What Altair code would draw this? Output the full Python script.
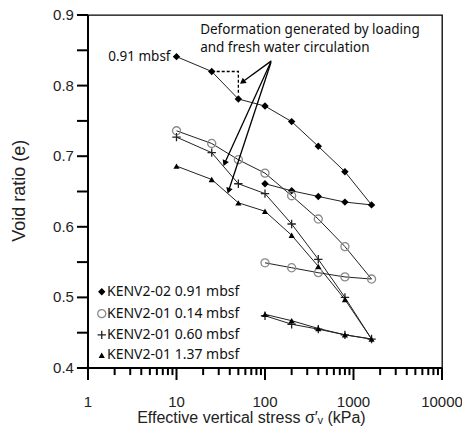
import altair as alt
import pandas as pd

# ---------------- data ----------------
stress_path = [10, 25, 50, 100, 200, 400, 800, 1600, 800, 400, 200, 100]

e_kenv202_091 = [0.841, 0.820, 0.781, 0.771, 0.749, 0.714, 0.678, 0.631, 0.635, 0.643, 0.651, 0.661]
e_kenv201_014 = [0.736, 0.718, 0.695, 0.676, 0.644, 0.611, 0.572, 0.526, 0.529, 0.535, 0.542, 0.549]
e_kenv201_060 = [0.727, 0.705, 0.661, 0.647, 0.604, 0.554, 0.500, 0.441, 0.447, 0.455, 0.462, 0.474]
e_kenv201_137 = [0.686, 0.667, 0.634, 0.622, 0.588, 0.544, 0.497, 0.441, 0.447, 0.456, 0.467, 0.476]

series_names = ["KENV2-02 0.91 mbsf", "KENV2-01 0.14 mbsf", "KENV2-01 0.60 mbsf", "KENV2-01 1.37 mbsf"]
series_values = [e_kenv202_091, e_kenv201_014, e_kenv201_060, e_kenv201_137]

dash_x = [25, 50, 50]
dash_y = [0.820, 0.820, 0.787]

arrow_x1 = [118, 116, 117]
arrow_y1 = [0.835, 0.833, 0.833]
arrow_x2 = [55.5, 35, 38.8]
arrow_y2 = [0.805, 0.690, 0.651]
arrow_angle = [234, 203, 198]

x_major = [1, 10, 100, 1000, 10000]
x_major_labels = ["1", "10", "100", "1000", "10000"]
x_minor = [2, 3, 4, 5, 6, 7, 8, 9,
           20, 30, 40, 50, 60, 70, 80, 90,
           200, 300, 400, 500, 600, 700, 800, 900,
           2000, 3000, 4000, 5000, 6000, 7000, 8000, 9000]
y_ticks = [0.4, 0.45, 0.5, 0.55, 0.6, 0.65, 0.7, 0.75, 0.8, 0.85, 0.9]
y_label_vals = [0.4, 0.5, 0.6, 0.7, 0.8, 0.9]
y_labels = ["0.4", "0.5", "0.6", "0.7", "0.8", "0.9"]

x_title = "Effective vertical stress σ′ᵥ (kPa)"
y_title = "Void ratio (e)"
annotation_lines = ["Deformation generated by loading", "and fresh water circulation"]

# ---------------- styles / placement constants ----------------
W, H = 354, 353
FONT = "Liberation Sans"
LFONT = "Noto Sans"
X_MIN, X_MAX, Y_MIN, Y_MAX = 1, 10000, 0.4, 0.9
LEG_MARK_X, LEG_TEXT_X = 1.43, 1.64
LEG_ROW_Y = [0.508, 0.477, 0.447, 0.418]
ANN_X = 18.5
ANN_Y = [0.879, 0.853]
YTICK_END_X = 0.7504          # 11 px left of the y axis on the log scale
XMAJOR_END_Y = 0.383          # 12 px below the x axis
XMINOR_END_Y = 0.390          # 7 px below the x axis
XTITLE_X, YTITLE_X, YTITLE_Y = 70.2, 0.170, 0.651

xscale = alt.Scale(type="log", domain=[X_MIN, X_MAX], nice=False)
yscale = alt.Scale(domain=[Y_MIN, Y_MAX], nice=False, zero=False)


def X(field):
    return alt.X(field, scale=xscale, axis=None)


def Y(field):
    return alt.Y(field, scale=yscale, axis=None)


marker_styles = [
    dict(shape="diamond", filled=True, color="black", size=55, strokeWidth=0),
    dict(shape="circle", filled=False, color="#8a8a8a", size=65, strokeWidth=1.3),
    dict(shape="M-1,0L1,0M0,-1L0,1", filled=False, color="#222", size=70, strokeWidth=1.3),
    dict(shape="triangle-up", filled=True, color="black", size=38, strokeWidth=0),
]

# ---------------- build ----------------
rows = []
for name, vals in zip(series_names, series_values):
    for i, (s, e) in enumerate(zip(stress_path, vals)):
        rows.append({"series": name, "stress": s, "e": e, "order": i})
df = pd.DataFrame(rows)

layers = []

# series lines
layers.append(
    alt.Chart(df).mark_line(color="#222", strokeWidth=1).encode(
        x=X("stress:Q"), y=Y("e:Q"), detail="series:N", order="order:Q"
    )
)

# ---- axes drawn through the scales ----
dom_df = pd.DataFrame({"x0": [X_MIN, X_MIN], "x1": [X_MIN, X_MAX], "y0": [Y_MIN, Y_MIN], "y1": [Y_MAX, Y_MIN]})
layers.append(
    alt.Chart(dom_df).mark_rule(color="black", strokeWidth=2).encode(
        x=X("x0:Q"), x2="x1:Q", y=Y("y0:Q"), y2="y1:Q"
    )
)
ytick_df = pd.DataFrame({"y": y_ticks, "x0": [X_MIN] * len(y_ticks), "x1": [YTICK_END_X] * len(y_ticks)})
layers.append(
    alt.Chart(ytick_df).mark_rule(color="black", strokeWidth=2).encode(
        x=X("x0:Q"), x2="x1:Q", y=Y("y:Q")
    )
)
xmaj_df = pd.DataFrame({"v": x_major, "y0": [Y_MIN] * len(x_major), "y1": [XMAJOR_END_Y] * len(x_major),
                        "t": x_major_labels})
layers.append(
    alt.Chart(xmaj_df).mark_rule(color="black", strokeWidth=2).encode(
        x=X("v:Q"), y=Y("y0:Q"), y2="y1:Q"
    )
)
xmin_df = pd.DataFrame({"v": x_minor, "y0": [Y_MIN] * len(x_minor), "y1": [XMINOR_END_Y] * len(x_minor)})
layers.append(
    alt.Chart(xmin_df).mark_rule(color="black", strokeWidth=2).encode(
        x=X("v:Q"), y=Y("y0:Q"), y2="y1:Q"
    )
)
# tick labels
layers.append(
    alt.Chart(xmaj_df).mark_text(align="center", baseline="middle", dy=34, font=FONT, fontSize=15, color="#222").encode(
        x=X("v:Q"), y=Y("y0:Q"), text="t:N"
    )
)
ylab_df = pd.DataFrame({"y": y_label_vals, "t": y_labels, "x": [YTICK_END_X] * len(y_labels)})
layers.append(
    alt.Chart(ylab_df).mark_text(align="right", baseline="middle", dx=-3, font=FONT, fontSize=15, color="#222").encode(
        x=X("x:Q"), y=Y("y:Q"), text="t:N"
    )
)
# axis titles
xt_df = pd.DataFrame({"t": [x_title], "x": [XTITLE_X], "y": [Y_MIN]})
layers.append(
    alt.Chart(xt_df).mark_text(align="center", baseline="middle", dy=50, font=FONT, fontSize=16, color="#222").encode(
        x=X("x:Q"), y=Y("y:Q"), text="t:N"
    )
)
yt_df = pd.DataFrame({"t": [y_title], "x": [YTITLE_X], "y": [YTITLE_Y]})
layers.append(
    alt.Chart(yt_df).mark_text(align="center", baseline="middle", angle=270, font=FONT, fontSize=18, color="#222").encode(
        x=X("x:Q"), y=Y("y:Q"), text="t:N"
    )
)

# markers
for name, st in zip(series_names, marker_styles):
    sub = df[df.series == name]
    layers.append(
        alt.Chart(sub).mark_point(opacity=1, **st).encode(x=X("stress:Q"), y=Y("e:Q"))
    )

# dashed annotation
dash_df = pd.DataFrame({"x": dash_x, "y": dash_y, "o": list(range(len(dash_x)))})
layers.append(
    alt.Chart(dash_df).mark_line(color="black", strokeWidth=1.3, strokeDash=[3, 2]).encode(
        x=X("x:Q"), y=Y("y:Q"), order="o:Q"
    )
)

# arrows
arr_df = pd.DataFrame({"x1": arrow_x1, "y1": arrow_y1, "x2": arrow_x2, "y2": arrow_y2, "ang": arrow_angle})
layers.append(
    alt.Chart(arr_df).mark_rule(color="black", strokeWidth=1.3).encode(
        x=X("x1:Q"), y=Y("y1:Q"), x2="x2:Q", y2="y2:Q"
    )
)
layers.append(
    alt.Chart(arr_df).mark_point(shape="triangle-up", filled=True, color="black", size=45, opacity=1).encode(
        x=X("x2:Q"), y=Y("y2:Q"), angle=alt.Angle("ang:Q", scale=None)
    )
)

# "0.91 mbsf" label
lab_df = pd.DataFrame({"x": [stress_path[0]], "y": [e_kenv202_091[0]], "t": ["0.91 mbsf"]})
layers.append(
    alt.Chart(lab_df).mark_text(align="right", baseline="middle", dx=-6, font=LFONT, fontSize=13.5, color="#111").encode(
        x=X("x:Q"), y=Y("y:Q"), text="t:N"
    )
)

# annotation text
ann_df = pd.DataFrame({"t": annotation_lines, "x": [ANN_X] * 2, "y": ANN_Y})
layers.append(
    alt.Chart(ann_df).mark_text(align="left", baseline="middle", font=LFONT, fontSize=13.5, color="#111").encode(
        x=X("x:Q"), y=Y("y:Q"), text="t:N"
    )
)

# legend (manual, inside the plot)
for name, st, yy in zip(series_names, marker_styles, LEG_ROW_Y):
    ldf = pd.DataFrame({"t": [name], "mx": [LEG_MARK_X], "tx": [LEG_TEXT_X], "y": [yy]})
    layers.append(
        alt.Chart(ldf).mark_point(opacity=1, **st).encode(x=X("mx:Q"), y=Y("y:Q"))
    )
    layers.append(
        alt.Chart(ldf).mark_text(align="left", baseline="middle", font=LFONT, fontSize=14, color="#111").encode(
            x=X("tx:Q"), y=Y("y:Q"), text="t:N"
        )
    )

chart = alt.layer(*layers).properties(
    width=W, height=H,
    autosize=alt.AutoSizeParams(type="none"),
    padding={"left": 80, "top": 7, "right": 20, "bottom": 58},
).configure_view(stroke="black", strokeWidth=1.3)

chart.save("out.html", embed_options={"renderer": "svg", "actions": False})
